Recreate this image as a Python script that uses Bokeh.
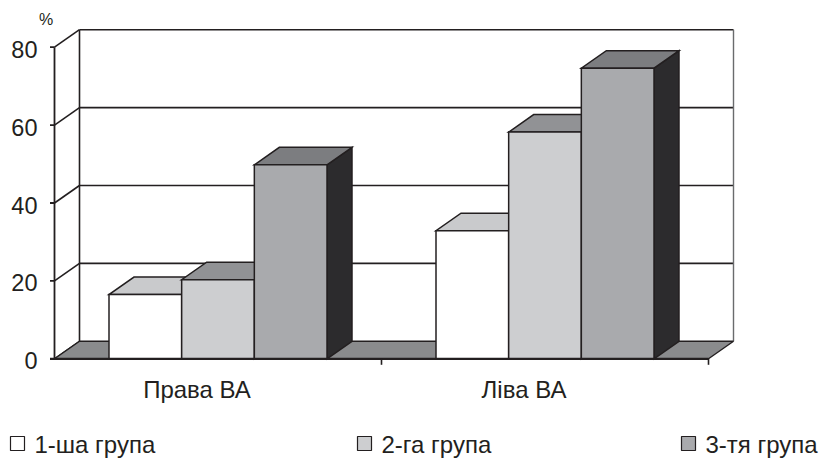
from bokeh.plotting import figure
from bokeh.models import ColumnDataSource
from bokeh.embed import file_html
from bokeh.resources import INLINE
from bokeh.core.properties import value

# ---- data ---------------------------------------------------------------
categories = ["Права ВА", "Ліва ВА"]
series_names = ["1-ша група", "2-га група", "3-тя група"]
group_1 = [16.5, 32.9]
group_2 = [20.3, 58.2]
group_3 = [49.8, 74.6]
y_ticks = [0, 20, 40, 60, 80]
y_tick_labels = ["0", "20", "40", "60", "80"]
unit_label = "%"

series_values = [group_1, group_2, group_3]

# ---- styling ------------------------------------------------------------
front_colors = ["#ffffff", "#cdced0", "#a9aaad"]
top_colors = ["#c9cacc", "#919295", "#7c7d80"]
side_color = "#2c2b2d"
floor_color = "#8a8b8d"
edge_color = "#231f20"
FONT = value("Liberation Sans")

# ---- geometry (screen pixels) -------------------------------------------
W, H = 821, 459
X0_PX = 54.0        # left edge of the floor / value axis
CAT_PX = 327.0      # width of one category slot
Y0_PX = 358.3       # baseline, measured from the top
UNIT_PX = 3.895     # pixels per percent
DX_PX, DY_PX = 25.0, 17.5   # oblique depth of the 3-D box

DX = DX_PX / CAT_PX
DY = DY_PX / UNIT_PX
Y_MAX = y_ticks[-1]
N_CAT = len(categories)
BAR_W = 1 / 4.5
GAP = 0.75 / 4.5


def px_x(px):
    return (px - X0_PX) / CAT_PX


def px_y(py):
    return (Y0_PX - py) / UNIT_PX


p = figure(
    width=W, height=H,
    x_range=(px_x(0), px_x(W)), y_range=(px_y(H), px_y(0)),
    output_backend="svg", toolbar_location=None,
    min_border=0, outline_line_color=None,
    x_axis_type=None, y_axis_type=None,
)
p.xgrid.visible = False
p.ygrid.visible = False
p.background_fill_color = "white"
p.border_fill_color = "white"

# ---- back wall grid and side wall -----------------------------------------
grid_levels = y_ticks[1:]
p.segment(x0=[DX] * len(grid_levels), y0=[v + DY for v in grid_levels],
          x1=[N_CAT + DX] * len(grid_levels), y1=[v + DY for v in grid_levels],
          line_color=edge_color, line_width=1.6)
p.segment(x0=[0] * len(y_ticks), y0=y_ticks,
          x1=[DX] * len(y_ticks), y1=[v + DY for v in y_ticks],
          line_color=edge_color, line_width=1.6)
p.segment(x0=[DX], y0=[DY], x1=[DX], y1=[Y_MAX + DY],
          line_color=edge_color, line_width=1.6)
p.segment(x0=[N_CAT + DX], y0=[DY], x1=[N_CAT + DX], y1=[Y_MAX + DY],
          line_color="#6a6b6d", line_width=1.4)

# ---- floor ----------------------------------------------------------------
p.patch(x=[0, N_CAT, N_CAT + DX, DX], y=[0, 0, DY, DY],
        fill_color=floor_color, line_color=edge_color, line_width=1.4)

# ---- bars (side, top, front in painter's order) ----------------------------
xs, ys, fills = [], [], []
for g in range(N_CAT):
    for j, vals in enumerate(series_values):
        v = vals[g]
        x0 = g + GAP + j * BAR_W
        x1 = x0 + BAR_W
        # right side face
        xs.append([x1, x1 + DX, x1 + DX, x1])
        ys.append([0, DY, v + DY, v])
        fills.append(side_color)
        # top face
        xs.append([x0, x1, x1 + DX, x0 + DX])
        ys.append([v, v, v + DY, v + DY])
        fills.append(top_colors[j])
        # front face
        xs.append([x0, x1, x1, x0])
        ys.append([0, 0, v, v])
        fills.append(front_colors[j])

bars = ColumnDataSource(dict(xs=xs, ys=ys, fill=fills))
p.patches("xs", "ys", source=bars, fill_color="fill",
          line_color=edge_color, line_width=1.5, line_join="miter")

# ---- front axes -----------------------------------------------------------
tick_len = 4.5 / CAT_PX
p.segment(x0=[0], y0=[0], x1=[0], y1=[Y_MAX], line_color=edge_color, line_width=1.8)
p.segment(x0=[-tick_len] * len(y_ticks), y0=y_ticks, x1=[0] * len(y_ticks), y1=y_ticks,
          line_color=edge_color, line_width=1.8)
p.segment(x0=[-tick_len], y0=[0], x1=[N_CAT], y1=[0], line_color=edge_color, line_width=2.2)
cat_edges = list(range(1, N_CAT + 1))
p.segment(x0=cat_edges, y0=[0] * N_CAT, x1=cat_edges, y1=[-6 / UNIT_PX] * N_CAT,
          line_color=edge_color, line_width=1.6)

# ---- texts ----------------------------------------------------------------
p.text(x=[px_x(37)] * len(y_ticks), y=y_ticks, text=y_tick_labels,
       text_align="right", text_baseline="middle", y_offset=2,
       text_font=FONT, text_font_size="23.5px", text_color="#231f20")
p.text(x=[px_x(45.5)], y=[px_y(18.5)], text=[unit_label],
       text_align="center", text_baseline="middle",
       text_font=FONT, text_font_size="16px", text_color="#231f20")
p.text(x=[g + 0.5 for g in range(N_CAT)], y=[px_y(389)] * N_CAT, text=categories,
       x_offset=-21, text_align="center", text_baseline="middle",
       text_font=FONT, text_font_size="24px", text_color="#231f20")

# ---- legend -------------------------------------------------------------
legend_px = [17, 364, 688]
p.rect(x=[px_x(v) for v in legend_px], y=[px_y(443)] * 3,
       width=14, height=14, width_units="screen", height_units="screen",
       fill_color=front_colors, line_color=edge_color, line_width=1.2)
p.text(x=[px_x(v + 17) for v in legend_px], y=[px_y(444)] * 3, text=series_names,
       text_align="left", text_baseline="middle",
       text_font=FONT, text_font_size="24px", text_color="#231f20")

open("out.html", "w").write(file_html(p, INLINE))
